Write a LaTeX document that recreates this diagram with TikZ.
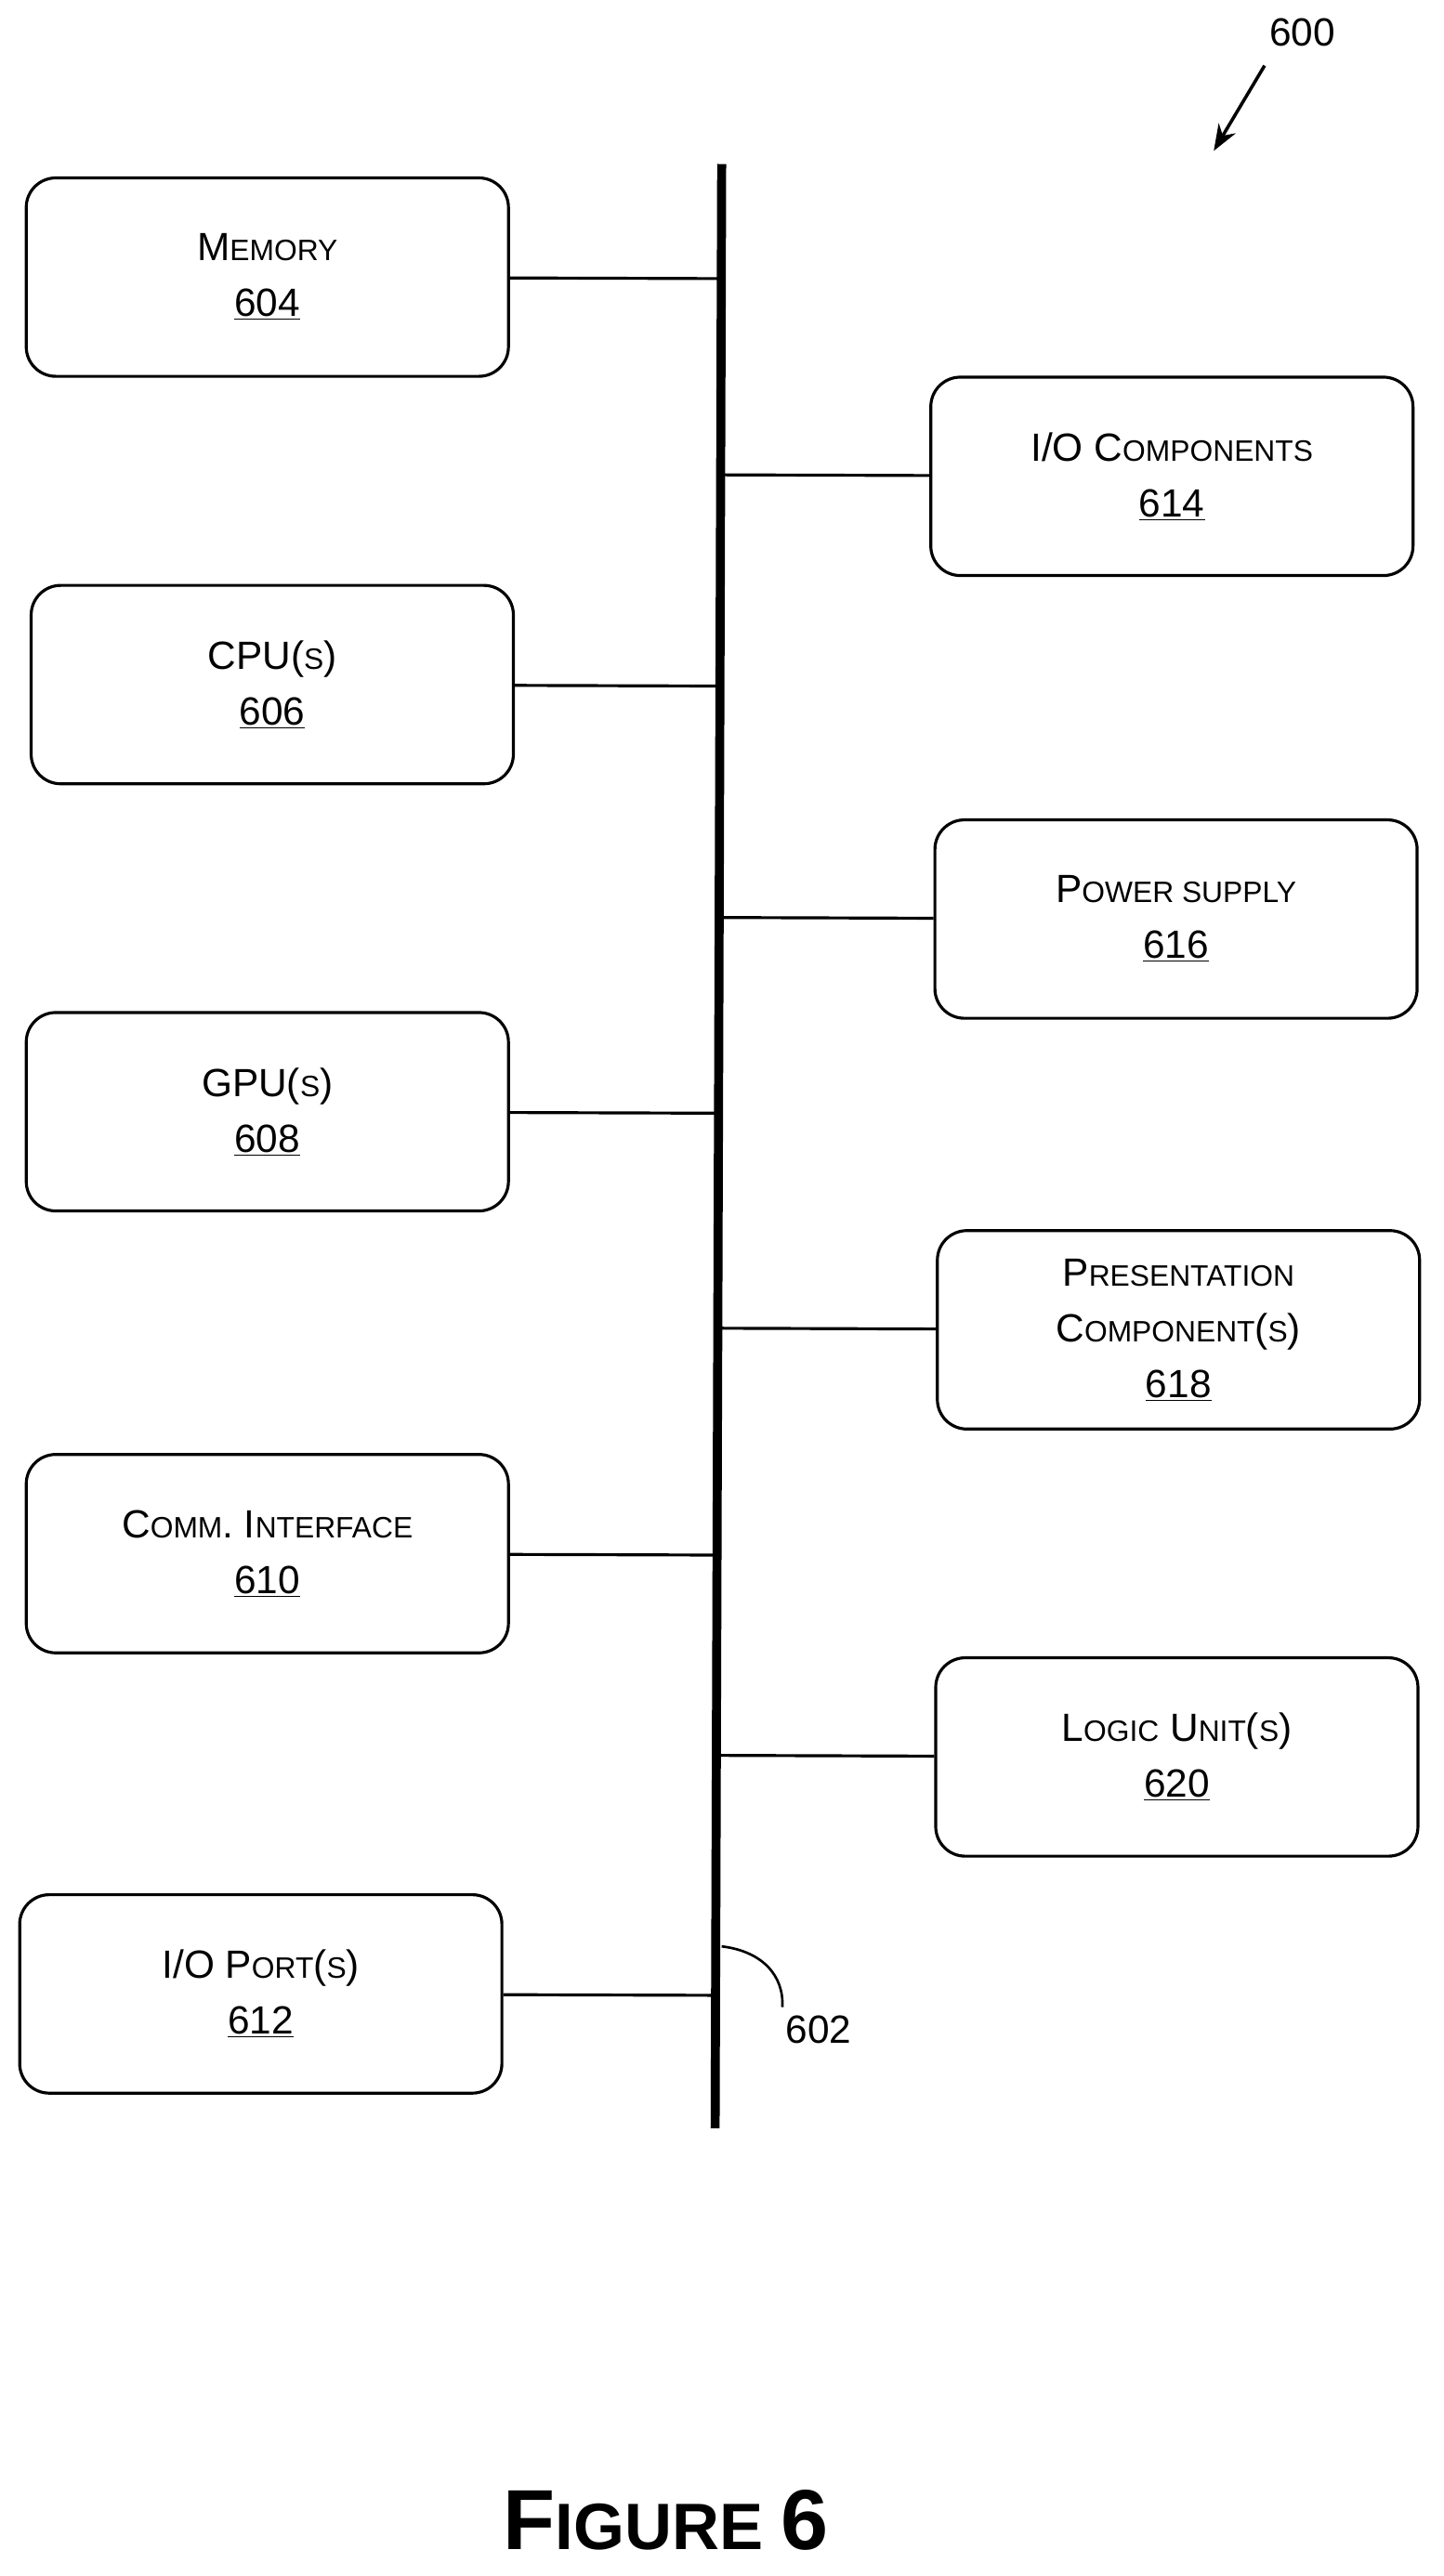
\documentclass[tikz,border=0pt]{standalone}
\usetikzlibrary{calc,arrows.meta}
\usepackage{fontspec}
\setmainfont{Liberation Sans}
\newcommand\smc[1]{{\fontsize{18}{20}\selectfont #1}}
\begin{document}
\begin{tikzpicture}[x=1pt,y=-1pt,
 box/.style={draw,line width=1.8pt,rounded corners=18pt,minimum width=294pt,minimum height=121pt,align=center,font=\fontsize{24}{34}\selectfont,inner sep=0pt},
 conn/.style={line width=1.8pt}]
\useasboundingbox (0,0) rectangle (880,1571);
\node[box] (mem) at (163,169) {M\smc{EMORY}\\\underline{604}};
\node[box] (ioc) at (714.5,290.5) {I/O C\smc{OMPONENTS}\\\underline{614}};
\node[box] (cpu) at (166,417.5) {CPU(\smc{S})\\\underline{606}};
\node[box] (pow) at (717,560.5) {P\smc{OWER SUPPLY}\\\underline{616}};
\node[box] (gpu) at (163,678) {GPU(\smc{S})\\\underline{608}};
\node[box] (pre) at (718.5,811) {P\smc{RESENTATION}\\C\smc{OMPONENT}(\smc{S})\\\underline{618}};
\node[box] (com) at (163,947.5) {C\smc{OMM}. I\smc{NTERFACE}\\\underline{610}};
\node[box] (log) at (717.5,1071.5) {L\smc{OGIC} U\smc{NIT}(\smc{S})\\\underline{620}};
\node[box] (iop) at (159,1216) {I/O P\smc{ORT}(\smc{S})\\\underline{612}};
\coordinate (bt) at (440,100);
\coordinate (bb) at (436,1298);
\draw[line width=5.5pt] (bt) -- (bb);
\foreach \n in {mem,ioc,cpu,pow,gpu,pre,com,log,iop}{
  \draw[conn] (\n) -- ($(bt)!(\n)!(bb)$);
}
\node[font=\fontsize{24}{28}\selectfont] (l602) at (499,1238) {602};
\draw[line width=1.5pt] (440,1187) .. controls (465,1190) and (478,1205) .. (477,1224);
\node[font=\fontsize{24}{28}\selectfont] (l600) at (794,20) {600};
\coordinate (a1) at (771,40);
\coordinate (a2) at (740,92);
\draw[line width=2pt,-{Stealth[length=16pt,width=12pt]}] (a1) -- (a2);
\node[font=\bfseries\fontsize{52}{60}\selectfont] (fig) at (406,1537) {F\fontsize{40}{48}\selectfont IGURE \fontsize{52}{60}\selectfont 6};
\end{tikzpicture}
\end{document}
